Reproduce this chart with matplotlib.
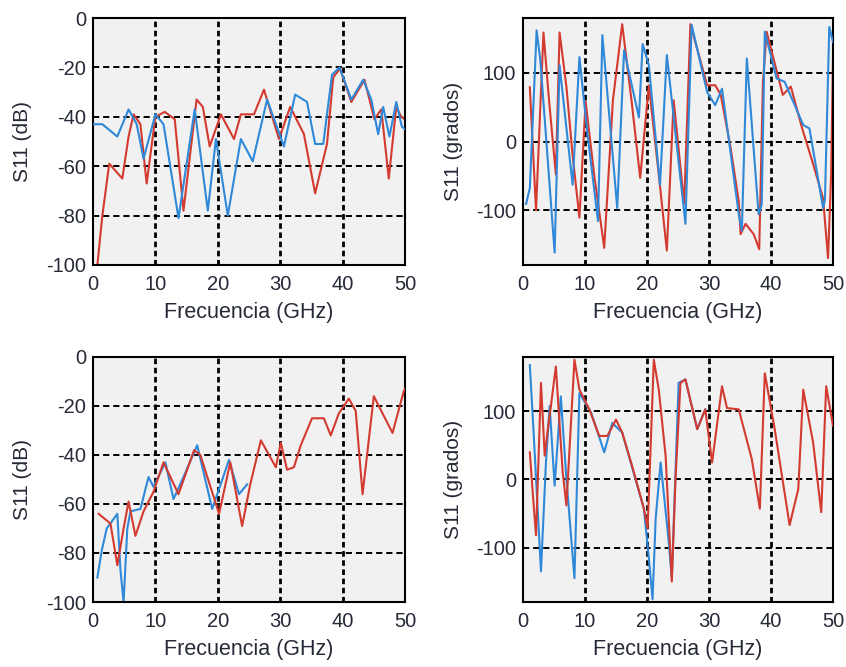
import matplotlib
matplotlib.use("Agg")
import matplotlib.pyplot as plt

# --- data ---
# top-left: magnitude (dB)
f_mag1_red = [0.7, 1.5, 2.6, 4.7, 5.7, 6.5, 7.6, 8.6, 10.0, 11.5, 13.1, 14.5, 16.6, 17.6, 18.7,
              20.5, 22.6, 23.7, 25.8, 27.4, 29.8, 31.6, 33.8, 35.6, 37.5, 38.5, 39.6, 41.4,
              43.5, 45.1, 46.2, 47.4, 48.6, 49.4, 50.0]
s_mag1_red = [-100, -80, -59, -65, -48, -39, -43, -67, -40, -38, -41, -78, -33, -36, -52,
              -39, -49, -39, -39, -29, -49, -36, -47, -71, -51, -24, -20.5, -34,
              -25, -41, -37, -65, -36, -40, -41]
f_mag1_blue = [0.0, 1.5, 3.9, 5.7, 7.0, 8.1, 10.0, 11.3, 13.7, 16.3, 18.4, 19.7, 21.6, 23.7,
               25.6, 27.9, 30.6, 32.4, 34.3, 35.6, 36.9, 38.3, 39.5, 41.4, 43.3, 44.6, 45.7,
               46.5, 47.5, 48.6, 49.5, 50.0]
s_mag1_blue = [-43, -43, -48, -37, -43, -57, -39, -43, -81, -37, -78, -49, -80, -49,
               -58, -33, -52, -31, -34, -51, -51, -23, -20, -33, -25, -33, -47,
               -36, -48, -34, -44, -45]

# top-right: phase (grados)
f_ph1_red = [1.1, 2.1, 3.3, 4.2, 5.3, 5.9, 7.0, 8.0, 9.1, 10.1, 11.5, 13.1, 14.5, 16.0, 17.5,
             18.9, 20.3, 21.8, 23.2, 24.3, 26.0, 27.0, 29.7, 31.0, 31.9, 33.5, 34.8, 35.1,
             35.9, 37.2, 38.1, 38.7, 39.3, 41.9, 43.2, 45.0, 46.7, 48.4, 49.2, 49.7, 50.0]
s_ph1_red = [79, -100, 159, 60, -48, 159, 80, -20, -111, 58, -50, -155, 60, 171, 60,
             -53, 82, -40, -159, 60, -91, 171, 82, 82, 68, -10, -87, -135,
             -120, -135, -157, 87, 160, 68, 80, 20, -30, -83, -170, -48, 124]
f_ph1_blue = [0.5, 1.1, 2.2, 2.8, 5.1, 5.9, 8.0, 9.1, 10.4, 12.1, 12.8, 15.2, 16.3, 18.7,
              19.3, 20.3, 22.1, 23.2, 26.2, 27.2, 29.7, 31.0, 32.1, 34.8, 35.3, 36.1, 38.0,
              38.5, 39.0, 40.9, 42.2, 45.2, 46.2, 48.4, 48.7, 49.4, 50.0]
s_ph1_blue = [-91, -68, 162, 118, -162, 111, -63, 123, 11, -116, 155, -97, 133, 35,
              142, 111, -63, 126, -120, 170, 72, 53, 77, -106, -130, 121, -106,
              -92, 160, 92, 87, 24, 19, -97, -85, 167, 145]

# bottom-left: magnitude (dB)
f_mag2_red = [0.9, 2.8, 3.9, 4.9, 5.7, 6.8, 8.1, 9.7, 11.3, 13.7, 16.2, 17.2, 20.2, 22.0, 23.9,
              25.2, 26.9, 29.3, 30.1, 31.1, 32.2, 33.3, 35.1, 37.0, 38.1, 39.4, 41.0, 42.1,
              43.2, 45.0, 48.0, 49.8, 50.0]
s_mag2_red = [-64, -68, -85, -70, -59, -73, -63, -55, -43, -56, -38, -40, -64, -43, -69,
              -52, -34, -45, -35, -46, -45, -36, -25, -25, -32, -23, -17, -22,
              -56, -16, -31, -14, -13]
f_mag2_blue = [0.7, 1.4, 2.2, 3.9, 4.4, 4.9, 5.5, 6.0, 7.6, 8.9, 9.7, 11.6, 12.9, 14.5, 16.7,
               19.1, 21.8, 23.4, 24.7]
s_mag2_blue = [-90, -79, -70, -64, -87, -100, -70, -63, -62, -49, -53, -43, -58, -49, -36,
               -62, -42, -56, -52]

# bottom-right: phase (grados)
f_ph2_red = [1.1, 1.6, 2.1, 2.9, 3.5, 4.0, 4.5, 5.3, 6.4, 7.0, 8.3, 9.1, 10.7, 12.3, 13.6,
             15.0, 16.0, 17.6, 19.5, 20.1, 21.1, 21.9, 23.0, 24.0, 24.6, 25.4, 26.2, 28.1,
             29.4, 30.5, 32.1, 32.9, 34.8, 36.9, 38.2, 39.0, 40.6, 43.0, 44.4, 45.2, 46.8,
             48.1, 48.9, 50.0]
s_ph2_red = [40, -23, -82, 142, 35, 74, 108, 166, 11, -38, 176, 132, 103, 64, 64,
             88, 69, 20, -43, -72, 176, 132, 35, -150, 1, 142, 147, 74,
             103, 25, 137, 105, 103, 30, -43, 156, 74, -67, -14, 132, 54,
             -48, 137, 79]
f_ph2_blue = [1.1, 1.6, 2.9, 3.7, 4.3, 5.1, 6.1, 7.0, 8.3, 9.1, 11.0, 13.1, 14.4, 16.0, 19.5,
              20.3, 20.9, 21.4, 22.2, 23.5, 24.0, 25.1, 26.2, 28.1, 29.4]
s_ph2_blue = [168, 88, -135, 25, 108, -9, 122, 1, -145, 127, 98, 40, 83, 69, -43,
              -116, -176, -57, 25, -91, -145, 142, 147, 74, 103]

RED = '#d33a30'
BLUE = '#2f88d8'
TXT = '#252a36'

plt.rcParams['font.family'] = ['Liberation Sans', 'DejaVu Sans']
plt.rcParams['font.size'] = 14.5
plt.rcParams['axes.unicode_minus'] = False

fig = plt.figure(figsize=(8.46, 6.67), dpi=100)

W, H = 846, 667
boxes = {
    'tl': (93, 18, 405, 265),
    'tr': (523, 18, 833, 265),
    'bl': (93, 357, 405, 602),
    'br': (523, 357, 833, 602),
}


def make_ax(key):
    x0, y0, x1, y1 = boxes[key]
    return fig.add_axes([x0 / W, 1 - y1 / H, (x1 - x0) / W, (y1 - y0) / H])


def style(ax, ylabel, ylim, yticks, hgrid):
    ax.set_facecolor('#f1f1f1')
    ax.set_xlim(0, 50)
    ax.set_ylim(*ylim)
    ax.set_xticks([0, 10, 20, 30, 40, 50])
    ax.set_yticks(yticks)
    for x in [10, 20, 30, 40]:
        ax.axvline(x, color='black', lw=2.0, ls=(0, (2.0, 1.3)), zorder=1)
    for y in hgrid:
        ax.axhline(y, color='black', lw=1.4, ls=(0, (3.2, 2.0)), zorder=1)
    for s in ax.spines.values():
        s.set_linewidth(1.5)
        s.set_color('black')
    ax.tick_params(length=0, labelcolor=TXT)
    ax.tick_params(axis='x', pad=7)
    ax.tick_params(axis='y', pad=5)
    ax.set_xlabel('Frecuencia (GHz)', color=TXT, fontsize=15.5, labelpad=6)
    ax.set_ylabel(ylabel, color=TXT, fontsize=15)
    ax.yaxis.set_label_coords(-0.195, 0.5)


ax = make_ax('tl')
ax.plot(f_mag1_red, s_mag1_red, color=RED, lw=1.5, zorder=2)
ax.plot(f_mag1_blue, s_mag1_blue, color=BLUE, lw=1.5, zorder=3)
style(ax, 'S11 (dB)', (-100, 0), [-100, -80, -60, -40, -20, 0], [-80, -60, -40, -20])

ax = make_ax('tr')
ax.plot(f_ph1_red, s_ph1_red, color=RED, lw=1.5, zorder=2)
ax.plot(f_ph1_blue, s_ph1_blue, color=BLUE, lw=1.5, zorder=3)
style(ax, 'S11 (grados)', (-180, 180), [-100, 0, 100], [-100, 0, 100])

ax = make_ax('bl')
ax.plot(f_mag2_blue, s_mag2_blue, color=BLUE, lw=1.5, zorder=2)
ax.plot(f_mag2_red, s_mag2_red, color=RED, lw=1.5, zorder=3)
style(ax, 'S11 (dB)', (-100, 0), [-100, -80, -60, -40, -20, 0], [-80, -60, -40, -20])

ax = make_ax('br')
ax.plot(f_ph2_blue, s_ph2_blue, color=BLUE, lw=1.5, zorder=2)
ax.plot(f_ph2_red, s_ph2_red, color=RED, lw=1.5, zorder=3)
style(ax, 'S11 (grados)', (-180, 180), [-100, 0, 100], [-100, 0, 100])

fig.savefig('out.png', dpi=100, facecolor='white')
